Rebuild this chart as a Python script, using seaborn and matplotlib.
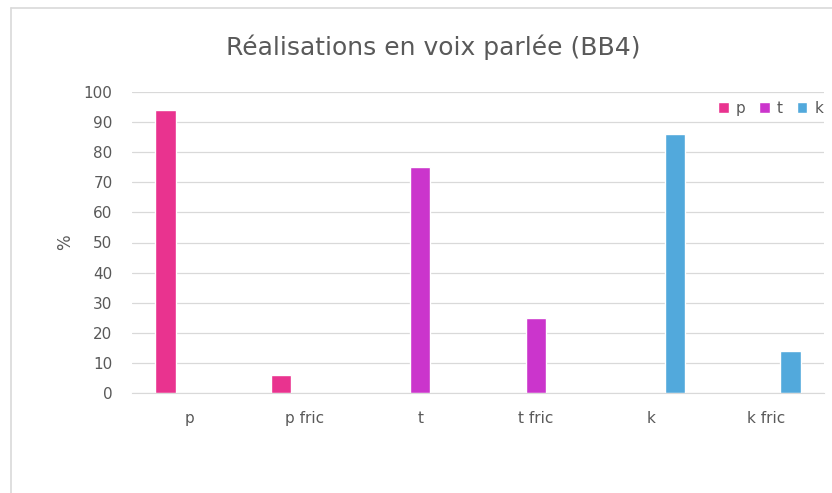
import numpy as np
import pandas as pd
import matplotlib
matplotlib.use("Agg")
import matplotlib.pyplot as plt
import seaborn as sns
from matplotlib.lines import Line2D

categories = ["p", "p fric", "t", "t fric", "k", "k fric"]
series = ["p", "t", "k"]
p_vals = [94, 6, np.nan, np.nan, np.nan, np.nan]
t_vals = [np.nan, np.nan, 75, 25, np.nan, np.nan]
k_vals = [np.nan, np.nan, np.nan, np.nan, 86, 14]
colors = ["#E9338F", "#CB35CC", "#52A9DC"]

rows = []
for name, vals in zip(series, [p_vals, t_vals, k_vals]):
    for cat, v in zip(categories, vals):
        rows.append({"cat": cat, "serie": name, "val": v})
df = pd.DataFrame(rows)

sns.set_style("white")
plt.rcParams["font.family"] = ["DejaVu Sans"]

fig = plt.figure(figsize=(8.32, 4.93), dpi=100)
ax = fig.add_axes([132 / 832, 1 - 393 / 493, 692 / 832, 301 / 493])

sns.barplot(data=df, x="cat", y="val", hue="serie", order=categories,
            hue_order=series, palette=colors, width=0.63, saturation=1,
            ax=ax, legend=True)

# excel-like: bars a bit narrower than their slot
bar_w = 0.175
for b in ax.patches:
    if b.get_height() > 0:
        cx = b.get_x() + b.get_width() / 2
        b.set_width(bar_w)
        b.set_x(cx - bar_w / 2)

ax.set_ylim(0, 100)
ax.set_yticks(range(0, 101, 10))
ax.set_xlim(-0.5, len(categories) - 0.5)
ax.grid(axis="y", color="#D9D9D9", linewidth=0.9)
ax.set_axisbelow(True)
for s in ["top", "right", "left"]:
    ax.spines[s].set_visible(False)
ax.spines["bottom"].set_color("#D9D9D9")
ax.tick_params(axis="both", length=0, colors="#595959", labelsize=11)
ax.tick_params(axis="x", pad=13)
ax.tick_params(axis="y", pad=14)
ax.set_xlabel("")
ax.set_ylabel("%", color="#595959", fontsize=12, labelpad=7)

ax.legend(loc="upper right", bbox_to_anchor=(1.012, 1.0), ncol=3, frameon=False,
          fontsize=11, handlelength=0.7, handleheight=0.7, handletextpad=0.45,
          columnspacing=0.9, labelcolor="#595959", borderaxespad=0.2)

fig.text(433 / 832, 1 - 47 / 493, "Réalisations en voix parlée (BB4)",
         ha="center", va="center", fontsize=18, color="#595959")

# chart frame (only left and top edges visible in the crop)
x0, y0 = 11 / 832, 1 - 8 / 493
fig.add_artist(Line2D([x0, x0], [0, y0], transform=fig.transFigure,
                      color="#D9D9D9", linewidth=1.2))
fig.add_artist(Line2D([x0, 1], [y0, y0], transform=fig.transFigure,
                      color="#D9D9D9", linewidth=1.2))

fig.savefig("out.png", dpi=100)
